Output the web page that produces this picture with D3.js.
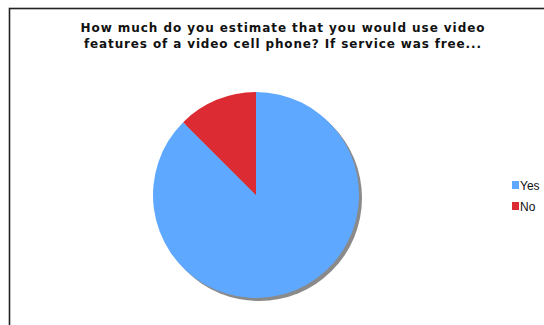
<body style="margin:0;background:#fff">
<script src="https://d3js.org/d3.v7.min.js"></script>
<script>
  // chart values
  var categories = ["Yes", "No"];
  var values = [87.5, 12.5];
  var colors = ["#5ea8ff", "#dc2b33"];
  var titleLines = ["How much do you estimate that you would use video",
                    "features of a video cell phone? If service was free..."];
  var titleWidths = [404, 397];

  var width = 544, height = 325;
  var cx = 256, cy = 195, r = 103;

  var svg = d3.select("body").append("svg")
      .attr("width", width)
      .attr("height", height)
      .style("display", "block");

  // frame (runs off the right and bottom edges)
  svg.append("rect")
      .attr("x", 9.5).attr("y", 8.5)
      .attr("width", 600).attr("height", 400)
      .attr("fill", "#fff")
      .attr("stroke", "#222")
      .attr("stroke-width", 1.6);

  svg.append("g").selectAll("text")
      .data(titleLines)
    .enter().append("text")
      .attr("x", 282.5)
      .attr("y", function(d, i) { return 31.5 + i * 16; })
      .attr("text-anchor", "middle")
      .attr("textLength", function(d, i) { return titleWidths[i]; })
      .attr("lengthAdjust", "spacing")
      .style("font", "bold 12px 'DejaVu Sans', Verdana, sans-serif")
      .attr("fill", "#111")
      .text(function(d) { return d; });

  var data = categories.map(function(c, i) { return {name: c, value: values[i], color: colors[i]}; });

  var pie = d3.pie().sort(null).value(function(d) { return d.value; });
  var arc = d3.arc().innerRadius(0).outerRadius(r);

  // shadow
  svg.append("circle")
      .attr("cx", cx + 3).attr("cy", cy + 3).attr("r", r)
      .attr("fill", "#8a8a8a");

  svg.append("g")
      .attr("transform", "translate(" + cx + "," + cy + ")")
    .selectAll("path")
      .data(pie(data))
    .enter().append("path")
      .attr("d", arc)
      .attr("fill", function(d) { return d.data.color; });

  // legend
  var legend = svg.append("g").selectAll("g")
      .data(data)
    .enter().append("g")
      .attr("transform", function(d, i) { return "translate(512," + (181 + i * 21) + ")"; });

  legend.append("rect")
      .attr("width", 7).attr("height", 8)
      .attr("fill", function(d) { return d.color; });

  legend.append("text")
      .attr("x", 8)
      .attr("y", 8.5)
      .style("font", "12px 'Liberation Sans', Arial, sans-serif")
      .attr("fill", "#111")
      .text(function(d) { return d.name; });
</script>
</body>
